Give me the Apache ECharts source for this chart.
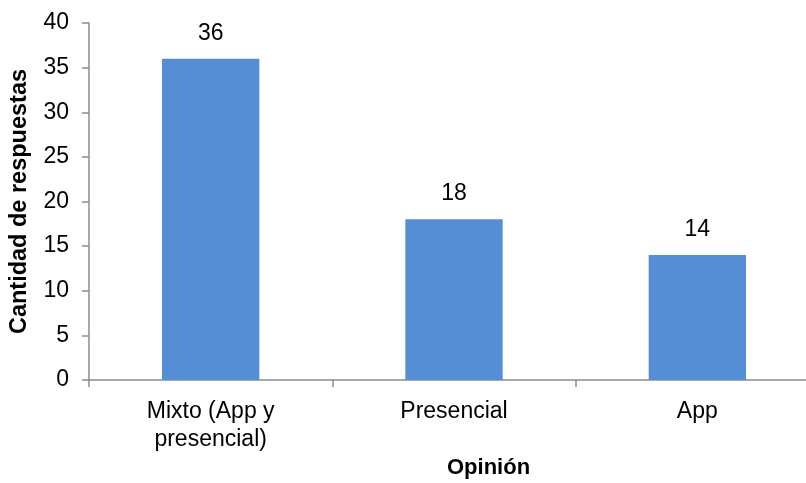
<!DOCTYPE html>
<html>
<head>
<meta charset="utf-8">
<script src="https://cdn.jsdelivr.net/npm/echarts@6/dist/echarts.min.js"></script>
<style>
  html, body { margin: 0; padding: 0; background: #fff; }
  #chart { width: 806px; height: 483px; }
</style>
</head>
<body>
<div id="chart"></div>
<script>
// Survey answers: preferred modality
const categories = ['Mixto (App y\npresencial)', 'Presencial', 'App'];
const respuestas = [36, 18, 14];
const yTicks = { min: 0, max: 40, interval: 5 };

const font = '"Liberation Sans", Arial, sans-serif';
const axisGray = '#8c8c8c';

const chart = echarts.init(document.getElementById('chart'));
chart.setOption({
  animation: false,
  backgroundColor: '#fff',
  // the category axis runs a little past the right edge of the canvas
  grid: { left: 89, width: 730, top: 23, height: 357, containLabel: false, outerBoundsMode: 'none' },
  xAxis: {
    type: 'category',
    data: categories,
    axisLine: { lineStyle: { color: axisGray, width: 1.5 } },
    axisTick: { show: true, length: 7, lineStyle: { color: axisGray, width: 1.5 } },
    axisLabel: { color: '#000', fontFamily: font, fontSize: 23, lineHeight: 28, margin: 18 }
  },
  yAxis: {
    type: 'value',
    min: yTicks.min, max: yTicks.max, interval: yTicks.interval,
    name: 'Cantidad de respuestas',
    nameLocation: 'middle',
    nameGap: 57,
    nameTextStyle: { color: '#000', fontFamily: font, fontSize: 23.5, fontWeight: 'bold' },
    axisLine: { show: true, lineStyle: { color: axisGray, width: 1.5 } },
    axisTick: { show: true, length: 7, lineStyle: { color: axisGray, width: 1.5 } },
    axisLabel: { color: '#000', fontFamily: font, fontSize: 23, margin: 20 },
    splitLine: { show: false }
  },
  graphic: [{
    type: 'text',
    left: 447, top: 457,
    style: { text: 'Opinión', fontFamily: font, fontSize: 22, fontWeight: 'bold', fill: '#000', textAlign: 'center' }
  }],
  series: [{
    type: 'bar',
    data: respuestas,
    barWidth: '40%',
    itemStyle: { color: '#558ED5' },
    label: { show: true, position: 'top', distance: 14, color: '#000', fontFamily: font, fontSize: 23 }
  }]
});
</script>
</body>
</html>
